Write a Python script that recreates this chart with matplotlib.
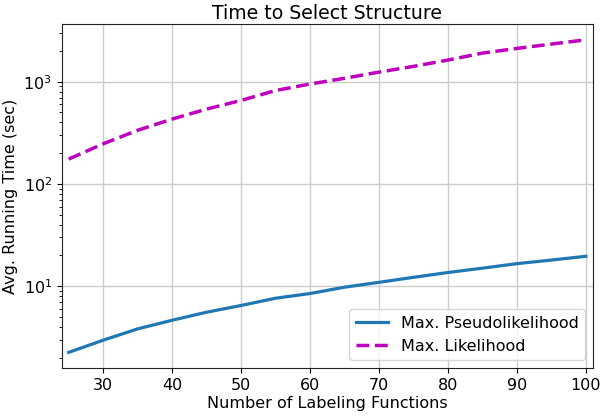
import numpy as np
from matplotlib import pyplot as plt

# number of labeling functions
n_lfs = [25, 30, 35, 40, 45, 50, 55, 60, 65, 70, 75, 80, 85, 90, 95, 100]

# avg running time (sec)
pseudo = [2.25, 2.96, 3.82, 4.64, 5.56, 6.47, 7.62, 8.47, 9.77, 10.9,
          12.2, 13.6, 15.0, 16.6, 18.0, 19.6]
likelihood = [175, 247, 335, 431, 540, 656, 820, 950, 1080, 1242,
              1413, 1629, 1906, 2117, 2335, 2570]

fig = plt.figure(figsize=(6, 4.17), dpi=100)
ax = fig.add_axes([0.103, 0.1175, 0.885, 0.8245])

ax.plot(n_lfs, pseudo, color='#1f77b4', lw=2.3, label='Max. Pseudolikelihood')
ax.plot(n_lfs, likelihood, color='m', lw=2.5, ls='--', label='Max. Likelihood')
ax.set_yscale('log')
ax.set_xlim(24, 101)

ax.grid(True, which='major', color='#cccccc', lw=1)
ax.set_axisbelow(True)
ax.tick_params(labelsize=11.5)
for s in ax.spines.values():
    s.set_color('#222222')

ax.set_title('Time to Select Structure', fontsize=13.6, pad=4)
ax.set_xlabel('Number of Labeling Functions', fontsize=11.5, labelpad=2)
ax.set_ylabel('Avg. Running Time (sec)', fontsize=11.5)
ax.legend(loc='lower right', fontsize=11.5)

plt.savefig('out.png')
